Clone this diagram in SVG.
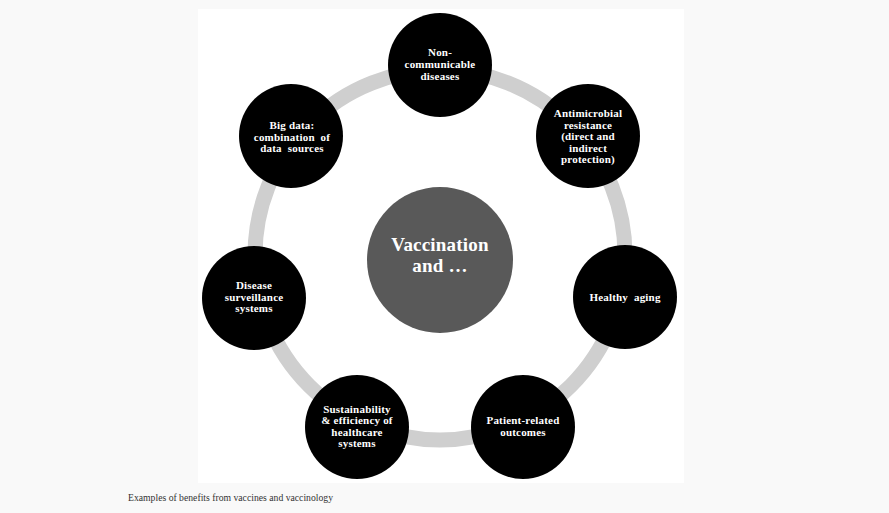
<svg xmlns="http://www.w3.org/2000/svg" width="889" height="513" viewBox="0 0 889 513">
<style>
.node{fill:#000}
.lbl{font-family:"Liberation Serif","Times New Roman",serif;font-weight:bold;font-size:11px;letter-spacing:0.2px;fill:#fff;text-anchor:middle;white-space:pre}
.hub{font-family:"Liberation Serif","Times New Roman",serif;font-weight:bold;font-size:19px;letter-spacing:0.2px;fill:#fff;text-anchor:middle}
.cap{font-family:"Liberation Serif","Times New Roman",serif;font-size:10px;fill:#333}
</style>
<rect width="889" height="513" fill="#f9f9f9"/>
<rect x="198" y="9" width="486" height="474" fill="#fff"/>
<g id="connectors">
<circle cx="440" cy="255" r="185" fill="none" stroke="#cfcfcf" stroke-width="15"/>
</g>
<g id="hub">
<circle cx="440" cy="260" r="73" fill="#595959"/>
<text class="hub" x="440" y="251">Vaccination</text>
<text class="hub" x="440" y="272">and …</text>
</g>
<g id="n-noncommunicable">
<circle class="node" cx="440" cy="65" r="52"/>
<text class="lbl" x="440" y="56">Non-</text>
<text class="lbl" x="440" y="68">communicable</text>
<text class="lbl" x="440" y="80">diseases</text>
</g>
<g id="n-antimicrobial">
<circle class="node" cx="588" cy="136" r="52"/>
<text class="lbl" x="588" y="117">Antimicrobial</text>
<text class="lbl" x="588" y="128.5">resistance</text>
<text class="lbl" x="588" y="140">(direct and</text>
<text class="lbl" x="588" y="151.5">indirect</text>
<text class="lbl" x="588" y="163">protection)</text>
</g>
<g id="n-healthy">
<circle class="node" cx="625" cy="297" r="52"/>
<text class="lbl" x="625" y="301" xml:space="preserve">Healthy  aging</text>
</g>
<g id="n-patient">
<circle class="node" cx="523" cy="427" r="52"/>
<text class="lbl" x="523" y="424">Patient-related</text>
<text class="lbl" x="523" y="435.5">outcomes</text>
</g>
<g id="n-sustainability">
<circle class="node" cx="357" cy="427" r="52"/>
<text class="lbl" x="357" y="413">Sustainability</text>
<text class="lbl" x="357" y="424">&amp; efficiency of</text>
<text class="lbl" x="357" y="435.5">healthcare</text>
<text class="lbl" x="357" y="446.5">systems</text>
</g>
<g id="n-surveillance">
<circle class="node" cx="254" cy="298" r="52"/>
<text class="lbl" x="254" y="289">Disease</text>
<text class="lbl" x="254" y="301">surveillance</text>
<text class="lbl" x="254" y="312">systems</text>
</g>
<g id="n-bigdata">
<circle class="node" cx="291" cy="136" r="52"/>
<text class="lbl" x="292" y="129">Big data:</text>
<text class="lbl" x="292" y="140.5" xml:space="preserve">combination  of</text>
<text class="lbl" x="292" y="151.5" xml:space="preserve">data  sources</text>
</g>
<text class="cap" x="128" y="501" textLength="205" lengthAdjust="spacingAndGlyphs">Examples of benefits from vaccines and vaccinology</text>
</svg>
